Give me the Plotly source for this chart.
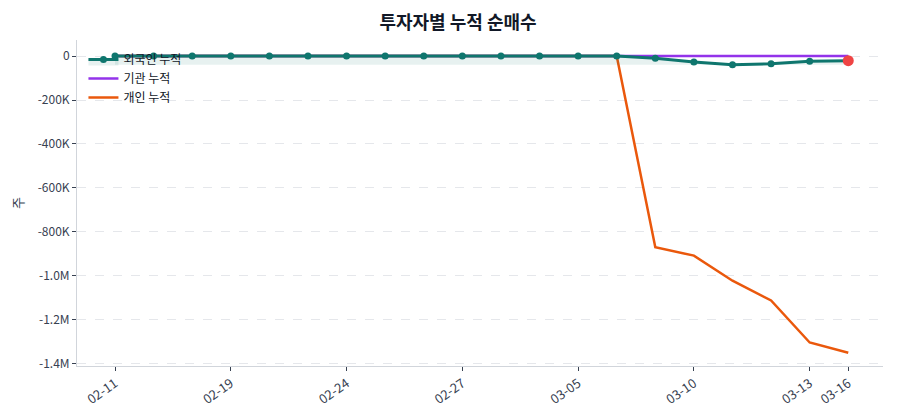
import plotly.graph_objects as go

dates = ["02-11", "02-12", "02-13", "02-19", "02-20", "02-23", "02-24", "02-25",
         "02-26", "02-27", "03-03", "03-04", "03-05", "03-06", "03-09", "03-10",
         "03-11", "03-12", "03-13", "03-16"]
foreign_cum = [0, 0, 0, 0, 0, 0, 0, 0, 0, 0, 0, 0, 0, 0,
               -10000, -27000, -40000, -35000, -24000, -21000]
inst_cum = [0] * 20
indiv_cum = [0, 0, 0, 0, 0, 0, 0, 0, 0, 0, 0, 0, 0, 0,
             -870000, -908000, -1022000, -1112000, -1303000, -1350000]
x_tickvals = ["02-11", "02-19", "02-24", "02-27", "03-05", "03-10", "03-13", "03-16"]
y_tickvals = [0, -200000, -400000, -600000, -800000, -1000000, -1200000, -1400000]
y_ticktext = ["0", "-200K", "-400K", "-600K", "-800K", "-1.0M", "-1.2M", "-1.4M"]

FONT = "Noto Sans CJK KR"
TEAL = "#0f766e"
PURPLE = "#9333ea"
ORANGE = "#ea580c"
RED = "#ef4444"

fig = go.Figure()
fig.add_trace(go.Scatter(x=dates, y=indiv_cum, name="개인 누적", mode="lines",
                         line=dict(color=ORANGE, width=2.5), legendrank=3))
fig.add_trace(go.Scatter(x=dates, y=inst_cum, name="기관 누적", mode="lines",
                         line=dict(color=PURPLE, width=2.5), legendrank=2))
base = [min(foreign_cum)] * len(dates)
fig.add_trace(go.Scatter(x=dates, y=base, mode="lines", line=dict(width=0),
                         showlegend=False, hoverinfo="skip"))
fig.add_trace(go.Scatter(x=dates, y=foreign_cum, name="외국인 누적", mode="lines+markers",
                         line=dict(color=TEAL, width=3), marker=dict(color=TEAL, size=7),
                         fill="tonexty", fillcolor="rgba(15,118,110,0.10)", legendrank=1))
fig.add_trace(go.Scatter(x=[dates[-1]], y=[foreign_cum[-1]], mode="markers",
                         marker=dict(color=RED, size=11), showlegend=False))

fig.update_layout(
    width=900, height=420,
    margin=dict(l=69, r=25, t=32, b=62),
    paper_bgcolor="white", plot_bgcolor="white",
    font=dict(family=FONT, size=12, color="#374151"),
    title=dict(text="<b>투자자별 누적 순매수</b>", x=0.5, xanchor="center", y=0.966,
               yanchor="middle", font=dict(family=FONT, size=18, color="#111827")),
    legend=dict(x=0.008, y=0.985, xanchor="left", yanchor="top", traceorder="normal",
                bgcolor="rgba(255,255,255,0)", font=dict(family=FONT, size=12, color="#111827")),
    showlegend=True,
)
fig.update_xaxes(type="category", range=[-0.985, 19.9], tickmode="array",
                 tickvals=x_tickvals, tickangle=-35, showgrid=False,
                 showline=True, linecolor="#d1d5db", linewidth=1,
                 ticks="outside", ticklen=4, tickcolor="#374151",
                 tickfont=dict(size=13, color="#374151"), zeroline=False, automargin=False)
fig.update_yaxes(range=[-1410000, 73000], tickmode="array", tickvals=y_tickvals,
                 ticktext=y_ticktext, showgrid=True, gridcolor="#e5e7eb", griddash="dash",
                 showline=True, linecolor="#d1d5db", linewidth=1,
                 ticks="outside", ticklen=4, tickcolor="#374151",
                 tickfont=dict(size=12, color="#374151"), zeroline=False, automargin=False,
                 title=dict(text="주", font=dict(size=13, color="#374151"), standoff=12))

fig.write_html("out.html")
